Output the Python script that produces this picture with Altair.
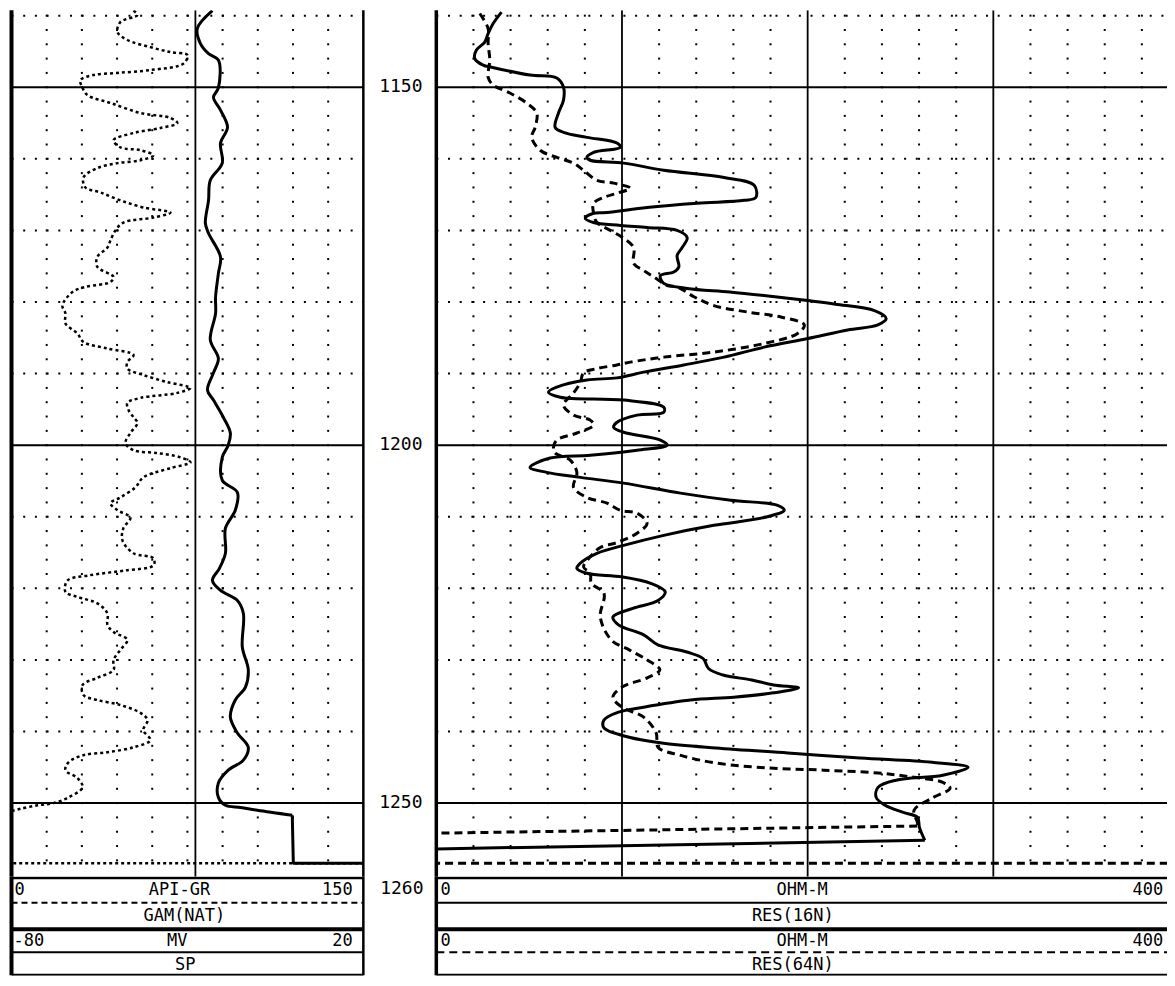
import altair as alt
import pandas as pd

# ---------------- values ----------------
sp_depth = [1139.3, 1141.8, 1143.9, 1145.3, 1146.2, 1150.1, 1151.4, 1153.2, 1155.6, 1157.8,
            1160.6, 1163.0, 1165.8, 1169.0, 1170.4, 1173.7, 1176.0, 1179.3, 1181.6, 1185.3,
            1187.9, 1189.9, 1192.3, 1193.7, 1196.1, 1198.3, 1200.0, 1201.7, 1204.9, 1206.6,
            1209.1, 1211.6, 1215.1, 1217.2, 1218.9, 1220.3, 1221.7, 1223.5, 1228.2, 1231.4,
            1233.8, 1235.6, 1238.0, 1240.2, 1242.2, 1244.0, 1245.4, 1247.2, 1249.2, 1250.3,
            1250.6, 1251.0, 1251.7, 1258.4, 1258.4]
sp_mv = [-22.9, -27.2, -26.3, -24.0, -21.2, -21.2, -22.6, -20.6, -18.6, -20.6,
         -20.1, -23.5, -24.0, -24.9, -24.0, -20.6, -21.2, -22.0, -22.0, -23.5,
         -21.2, -22.6, -24.3, -22.6, -19.8, -17.8, -18.4, -20.1, -20.1, -15.8,
         -16.4, -19.2, -19.2, -20.9, -22.9, -20.6, -15.8, -14.1, -14.4, -12.7,
         -13.5, -16.4, -17.8, -15.8, -12.7, -14.1, -18.4, -21.2, -21.2, -19.2,
         -14.9, -10.1, -0.2, 0.1, 20.0]

gr_depth = [1139.3, 1139.9, 1140.9, 1142.3, 1143.4, 1144.4, 1145.1, 1145.5, 1146.7, 1147.6,
            1148.0, 1148.3, 1149.0, 1150.1, 1151.1, 1152.2, 1153.6, 1154.3, 1155.0, 1155.7,
            1156.4, 1157.4, 1158.4, 1158.8, 1159.5, 1160.2, 1160.6, 1161.3, 1162.6, 1164.0,
            1164.7, 1165.8, 1166.8, 1167.5, 1168.2, 1168.9, 1170.0, 1171.4, 1172.4, 1173.7,
            1175.1, 1176.5, 1177.2, 1177.9, 1178.6, 1180.5, 1181.6, 1183.0, 1184.4, 1185.6,
            1186.5, 1187.4, 1188.4, 1189.3, 1190.2, 1191.2, 1192.0, 1192.7, 1193.4, 1194.1,
            1195.1, 1196.1, 1196.9, 1198.3, 1199.7, 1200.7, 1201.1, 1201.7, 1202.4, 1203.2,
            1204.5, 1205.9, 1207.3, 1208.1, 1209.1, 1210.1, 1211.6, 1213.3, 1215.1, 1215.8,
            1216.8, 1217.5, 1218.2, 1218.9, 1220.5, 1221.2, 1222.1, 1223.5, 1225.1, 1226.1,
            1227.2, 1228.6, 1230.0, 1231.4, 1232.5, 1233.5, 1234.9, 1235.6, 1236.3, 1237.4,
            1238.4, 1239.8, 1241.2, 1242.2, 1242.9, 1243.3, 1244.3, 1245.4, 1246.5, 1247.8,
            1249.2, 1250.0, 1250.3, 1250.8, 1251.1, 1258.4, 1258.4]
gr_api = [52.0, 53.7, 46.4, 45.2, 49.4, 59.2, 67.8, 75.0, 73.3, 59.2,
          45.2, 34.9, 29.4, 30.3, 32.4, 42.2, 55.0, 67.8, 70.7, 63.5,
          52.0, 43.5, 46.4, 55.0, 60.5, 55.0, 45.2, 36.6, 30.7, 31.5,
          37.9, 46.4, 56.2, 67.8, 60.5, 47.7, 44.3, 42.2, 40.9, 36.6,
          36.6, 43.5, 42.2, 31.5, 26.0, 21.7, 23.0, 23.0, 28.1, 30.7,
          40.9, 52.0, 49.4, 49.4, 56.2, 66.5, 76.3, 70.7, 55.0, 49.4,
          49.9, 52.0, 53.7, 50.7, 48.6, 52.0, 62.2, 72.0, 76.3, 67.8,
          56.2, 52.8, 46.4, 42.2, 45.2, 50.7, 47.7, 47.3, 52.0, 60.5,
          60.5, 48.6, 32.8, 23.9, 23.0, 28.1, 36.6, 40.9, 40.9, 43.5,
          49.4, 46.4, 43.5, 43.5, 36.6, 30.3, 30.7, 36.6, 46.4, 55.0,
          58.0, 56.2, 59.2, 52.0, 40.9, 30.7, 24.3, 23.0, 28.1, 30.3,
          24.3, 17.9, 11.1, 3.8, 0.0, 0.0, 150.0]

r16_depth = [1139.5, 1141.1, 1142.5, 1143.7, 1144.8, 1146.0, 1146.9, 1147.2, 1148.3, 1148.7,
             1150.0, 1151.8, 1153.6, 1155.6, 1156.3, 1157.0, 1157.8, 1158.4, 1159.1, 1159.8,
             1160.2, 1160.6, 1161.6, 1162.6, 1163.7, 1165.4, 1165.8, 1166.2, 1166.8, 1167.5,
             1167.6, 1168.3, 1168.9, 1169.3, 1169.6, 1170.0, 1171.0, 1172.4, 1173.5, 1175.1,
             1175.8, 1176.3, 1177.4, 1178.1, 1178.6, 1179.2, 1179.8, 1180.3, 1181.2, 1182.3,
             1183.2, 1183.9, 1185.1, 1186.3, 1187.7, 1188.8, 1189.8, 1190.6, 1190.9, 1191.9,
             1192.6, 1193.3, 1193.7, 1194.7, 1195.4, 1195.8, 1196.8, 1197.5, 1198.2, 1199.3,
             1200.0, 1200.7, 1201.4, 1201.8, 1203.1, 1203.8, 1204.5, 1205.3, 1206.7, 1207.7,
             1208.4, 1209.1, 1210.1, 1211.2, 1212.6, 1214.0, 1215.1, 1216.5, 1217.2, 1217.9,
             1218.4, 1219.3, 1220.5, 1221.7, 1222.8, 1224.0, 1225.1, 1226.5, 1227.9, 1228.9,
             1229.8, 1231.2, 1232.1, 1232.8, 1233.5, 1233.9, 1234.6, 1235.2, 1235.6, 1236.6,
             1237.3, 1238.4, 1239.5, 1240.8, 1241.6, 1242.3, 1243.0, 1243.7, 1244.3, 1245.0,
             1246.1, 1246.8, 1247.8, 1249.2, 1250.3, 1251.3, 1252.0, 1253.4, 1255.2, 1256.4]
r16_ohmm = [35.1, 30.6, 27.9, 26.1, 21.6, 20.7, 25.2, 29.7, 50.5, 64.9,
            68.5, 68.5, 65.8, 64.0, 68.5, 81.1, 97.3, 99.1, 84.7, 81.1,
            82.9, 100.9, 122.5, 155.0, 171.2, 172.1, 165.8, 140.5, 113.5, 91.9,
            84.7, 80.2, 84.7, 99.1, 113.5, 129.7, 135.1, 132.4, 129.7, 130.6,
            127.9, 120.7, 122.5, 135.1, 158.0, 180.0, 200.0, 215.0, 236.0, 242.3,
            237.8, 221.6, 200.0, 176.6, 155.0, 133.3, 111.7, 97.3, 81.1, 64.9,
            60.4, 66.7, 100.9, 122.5, 122.5, 108.1, 97.3, 95.5, 100.9, 120.7,
            124.3, 108.1, 82.9, 61.3, 50.5, 59.5, 77.5, 100.9, 131.5, 158.6,
            183.8, 187.4, 176.6, 149.5, 122.5, 100.9, 86.5, 77.5, 75.7, 81.1,
            100.0, 115.5, 123.3, 119.4, 105.8, 95.1, 98.1, 111.7, 119.4, 135.0,
            143.7, 146.6, 154.4, 169.9, 181.6, 195.1, 181.6, 160.2, 136.9, 111.7,
            98.1, 90.3, 90.3, 103.9, 121.4, 150.5, 189.3, 228.2, 267.0, 286.4,
            272.8, 247.6, 237.9, 236.9, 241.7, 251.5, 259.2, 260.2, 263.1, 0.0]

r64_depth = [1139.7, 1141.8, 1143.9, 1146.2, 1148.6, 1149.7, 1150.8, 1152.2, 1153.6, 1155.6,
             1157.0, 1158.8, 1159.8, 1160.6, 1161.6, 1163.0, 1163.4, 1164.1, 1164.8, 1165.4,
             1166.2, 1167.6, 1168.9, 1170.0, 1171.1, 1172.4, 1174.6, 1175.6, 1176.5, 1177.7,
             1177.9, 1179.3, 1180.5, 1181.4, 1182.1, 1183.2, 1184.4, 1185.8, 1187.0, 1187.7,
             1188.4, 1188.8, 1189.3, 1189.9, 1191.3, 1192.7, 1194.4, 1195.8, 1196.5, 1197.2,
             1198.3, 1199.3, 1200.3, 1201.1, 1202.1, 1203.8, 1205.9, 1207.3, 1208.1, 1209.1,
             1209.5, 1210.9, 1212.3, 1213.6, 1214.3, 1215.6, 1217.0, 1217.9, 1219.3, 1220.7,
             1224.0, 1227.2, 1228.6, 1230.0, 1231.4, 1232.5, 1233.8, 1235.2, 1236.6, 1238.0,
             1240.2, 1242.2, 1243.3, 1244.4, 1245.1, 1245.4, 1245.8, 1246.4, 1247.1, 1247.9,
             1249.3, 1251.0, 1252.8, 1253.2, 1254.2, 1258.4, 1258.4]
r64_ohmm = [23.4, 27.9, 27.9, 28.8, 27.9, 30.6, 39.6, 48.6, 54.1, 53.2,
            51.4, 55.9, 64.9, 73.9, 79.3, 86.5, 95.5, 104.5, 97.3, 90.1,
            84.7, 84.7, 86.5, 93.7, 100.9, 106.3, 106.3, 111.7, 117.1, 124.3,
            129.7, 139.0, 149.5, 167.6, 185.6, 198.2, 194.6, 176.6, 149.5, 122.5,
            104.5, 97.3, 86.5, 79.3, 77.5, 73.9, 68.5, 73.9, 82.9, 84.7,
            75.7, 64.9, 63.1, 64.0, 72.1, 75.7, 73.9, 81.1, 91.9, 99.1,
            108.1, 113.5, 108.1, 97.3, 88.3, 82.9, 79.3, 82.9, 83.5, 90.3,
            88.3, 94.2, 103.9, 113.6, 120.4, 113.6, 100.0, 95.1, 100.0, 111.7,
            118.4, 119.4, 131.1, 150.5, 179.6, 208.7, 237.9, 257.3, 272.8, 276.7,
            267.0, 257.3, 259.2, 259.0, 0.0, 0.0, 400.0]

# index where each log leaves its smooth trace and runs as straight segments
sp_tail, gr_tail, r16_tail, r64_tail = 52, 114, 128, 93

# grid / tick definitions
major_depths = [1150, 1200, 1250]
dotted_depths = [1140, 1160, 1170, 1180, 1190, 1210, 1220, 1230, 1240]
dot_depths = list(range(1140, 1260, 2))
left_dot_cols = [15, 30, 45, 60, 75, 90, 105, 120, 135]
left_solid_cols = [78.4]
right_dot_cols = [20, 40, 60, 80, 120, 140, 160, 180, 220, 240, 260, 280, 320, 340, 360, 380]
right_major_cols = [100, 200, 300]
depth_labels = ["1150", "1200", "1250"]

# ---------------- layout ----------------
TOP, BOT = 1139.24, 1260.3
WL, WD, WR, HT, HH = 352, 73, 731, 867, 99
RR = 743
FONT = "DejaVu Sans Mono"

DS = alt.Scale(domain=[TOP, BOT], reverse=True, nice=False, zero=False)
HS = alt.Scale(domain=[0, HH], reverse=True, nice=False, zero=False)
GRS = alt.Scale(domain=[0, 150], nice=False, zero=False)
SPS = alt.Scale(domain=[-80, 20], nice=False, zero=False)
RS = alt.Scale(domain=[0, 400], range=[0, RR], nice=False, zero=False)


def line(depth, vals, scale, dash, width, interp):
    df = pd.DataFrame({"depth": depth, "v": vals, "i": list(range(len(depth)))})
    kw = dict(color="black", strokeWidth=width, strokeJoin="round", clip=True, interpolate=interp)
    if dash:
        kw["strokeDash"] = dash
    return alt.Chart(df).mark_line(**kw).encode(
        x=alt.X("v:Q", scale=scale, axis=None),
        y=alt.Y("depth:Q", scale=DS, axis=None),
        order=alt.Order("i:Q"),
    )


def curve(depth, vals, tail, scale, dash=None, width=3):
    return [line(depth[:tail + 1], vals[:tail + 1], scale, dash, width, "catmull-rom"),
            line(depth[tail:], vals[tail:], scale, dash, width, "linear")]


def track_grid(scale, lo, hi, dot_cols, solid_cols, left_w, right_w):
    layers = []
    dots = pd.DataFrame([(d, c) for d in dot_depths for c in dot_cols], columns=["depth", "v"])
    layers.append(alt.Chart(dots).mark_square(size=4, color="black", opacity=1).encode(
        x=alt.X("v:Q", scale=scale, axis=None), y=alt.Y("depth:Q", scale=DS, axis=None)))
    hd = pd.DataFrame({"depth": dotted_depths, "a": lo, "b": hi})
    layers.append(alt.Chart(hd).mark_rule(color="black", strokeWidth=2, strokeDash=[2, 9.7], clip=True).encode(
        x=alt.X("a:Q", scale=scale, axis=None), x2="b:Q", y=alt.Y("depth:Q", scale=DS, axis=None)))
    hm = pd.DataFrame({"depth": major_depths, "a": lo, "b": hi})
    layers.append(alt.Chart(hm).mark_rule(color="black", strokeWidth=2, clip=True).encode(
        x=alt.X("a:Q", scale=scale, axis=None), x2="b:Q", y=alt.Y("depth:Q", scale=DS, axis=None)))
    vs = pd.DataFrame({"v": solid_cols, "d0": TOP, "d1": BOT})
    layers.append(alt.Chart(vs).mark_rule(color="black", strokeWidth=1.8, clip=True).encode(
        x=alt.X("v:Q", scale=scale, axis=None), y=alt.Y("d0:Q", scale=DS, axis=None), y2="d1:Q"))
    bl = pd.DataFrame({"v": [lo], "d0": TOP, "d1": BOT})
    layers.append(alt.Chart(bl).mark_rule(color="black", strokeWidth=left_w).encode(
        x=alt.X("v:Q", scale=scale, axis=None), y=alt.Y("d0:Q", scale=DS, axis=None), y2="d1:Q"))
    if right_w:
        br = pd.DataFrame({"v": [hi], "d0": TOP, "d1": BOT})
        layers.append(alt.Chart(br).mark_rule(color="black", strokeWidth=right_w).encode(
            x=alt.X("v:Q", scale=scale, axis=None), y=alt.Y("d0:Q", scale=DS, axis=None), y2="d1:Q"))
    return layers


# ---------------- tracks ----------------
left_layers = track_grid(GRS, 0, 150, left_dot_cols, left_solid_cols, 4, 2.5)
left_layers += curve(gr_depth, gr_api, gr_tail, GRS, dash=[3, 3], width=2.5)
left_layers += curve(sp_depth, sp_mv, sp_tail, SPS, width=3)
left = alt.layer(*left_layers).resolve_scale(x="independent").properties(width=WL, height=HT)

right_layers = track_grid(RS, 0, 400, right_dot_cols, right_major_cols, 3.5, 0)
right_layers += curve(r64_depth, r64_ohmm, r64_tail, RS, dash=[8, 5], width=3)
right_layers += curve(r16_depth, r16_ohmm, r16_tail, RS, width=3)
right = alt.layer(*right_layers).properties(width=WR, height=HT)

lab = pd.DataFrame({"depth": major_depths, "label": depth_labels})
mid = alt.Chart(lab).mark_text(font=FONT, fontSize=18, color="black", align="center", baseline="middle").encode(
    x=alt.value(WD / 2 + 1), y=alt.Y("depth:Q", scale=DS, axis=None), text="label:N"
).properties(width=WD, height=HT)


# ---------------- header boxes ----------------
def header(scale, lo, hi, items, seps, left_w, right_w):
    layers = []
    for hy, w, dash in seps:
        df = pd.DataFrame({"hy": [hy], "a": [lo], "b": [hi]})
        kw = dict(color="black", strokeWidth=w, clip=True)
        if dash:
            kw["strokeDash"] = dash
        layers.append(alt.Chart(df).mark_rule(**kw).encode(
            x=alt.X("a:Q", scale=scale, axis=None), x2="b:Q", y=alt.Y("hy:Q", scale=HS, axis=None)))
    for v, w in [(lo, left_w), (hi, right_w)]:
        if w:
            df = pd.DataFrame({"v": [v], "h0": [0], "h1": [HH - 0.5]})
            layers.append(alt.Chart(df).mark_rule(color="black", strokeWidth=w).encode(
                x=alt.X("v:Q", scale=scale, axis=None), y=alt.Y("h0:Q", scale=HS, axis=None), y2="h1:Q"))
    for align in ["left", "center", "right"]:
        rows = [it for it in items if it[3] == align]
        df = pd.DataFrame({"v": [r[0] for r in rows], "hy": [r[1] for r in rows], "t": [r[2] for r in rows]})
        layers.append(alt.Chart(df).mark_text(font=FONT, fontSize=17, color="black", align=align,
                                              baseline="middle").encode(
            x=alt.X("v:Q", scale=scale, axis=None), y=alt.Y("hy:Q", scale=HS, axis=None), text="t:N"))
    return layers


lh_items = [(1.3, 13, "0", "left"), (71.6, 13, "API-GR", "center"), (145.5, 13, "150", "right"),
            (73.7, 39.5, "GAM(NAT)", "center"),
            (0.9, 64, "-80", "left"), (70.7, 64, "MV", "center"), (145.5, 64, "20", "right"),
            (74.1, 88.5, "SP", "center")]
lh_seps = [(1, 3, None), (26, 2, [6, 4]), (52.5, 4, None), (75.5, 2, None), (98, 2, None)]
lh = alt.layer(*header(GRS, 0, 150, lh_items, lh_seps, 4, 2.5)).properties(width=WL, height=HH)

rh_items = [(2.2, 13, "0", "left"), (197, 13, "OHM-M", "center"), (391.5, 13, "400", "right"),
            (192, 39.5, "RES(16N)", "center"),
            (2.2, 64, "0", "left"), (197, 64, "OHM-M", "center"), (391.5, 64, "400", "right"),
            (192, 88.5, "RES(64N)", "center")]
rh_seps = [(1, 3, None), (26, 2, None), (52.5, 4, None), (75.5, 2, [8, 5]), (98, 2, None)]
rh = alt.layer(*header(RS, 0, 400, rh_items, rh_seps, 3.5, 0)).properties(width=WR, height=HH)

mh = alt.Chart(pd.DataFrame({"hy": [12], "t": ["1260"]})).mark_text(
    font=FONT, fontSize=18, color="black", align="center", baseline="middle").encode(
    x=alt.value(WD / 2 + 2), y=alt.Y("hy:Q", scale=HS, axis=None), text="t:N"
).properties(width=WD, height=HH)

chart = alt.concat(left, mid, right, lh, mh, rh, columns=3, spacing=0, bounds="flush").properties(
    padding={"left": 1.5, "top": 0, "right": 0, "bottom": 0}, background="white"
).configure_view(stroke=None)

chart.save("out.html", embed_options={"renderer": "svg", "actions": False})
